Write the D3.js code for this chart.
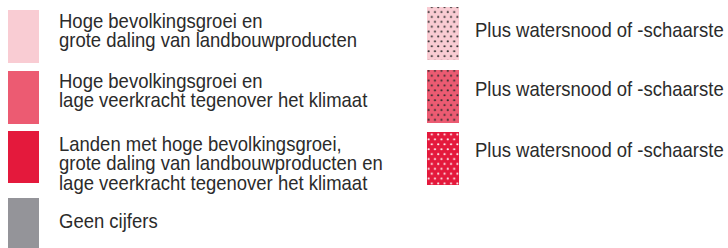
<!DOCTYPE html>
<html>
<head>
<meta charset="utf-8">
<script src="https://d3js.org/d3.v7.min.js"></script>
<style>
  body { margin: 0; background: #fff; }
  svg { display: block; }
  text { font-family: "Liberation Sans", Arial, sans-serif; font-size: 20px; fill: #2b2b2b; }
</style>
</head>
<body>
<div id="legend"></div>
<script>
var w = 728,
    h = 248;

// left column: categories
var categories = [
  ["Hoge bevolkingsgroei en", "grote daling van landbouwproducten"],
  ["Hoge bevolkingsgroei en", "lage veerkracht tegenover het klimaat"],
  ["Landen met hoge bevolkingsgroei,", "grote daling van landbouwproducten en", "lage veerkracht tegenover het klimaat"],
  ["Geen cijfers"]
];
var categoryColors = ["#f9ccd3", "#ec5b72", "#e4193c", "#949499"];

// right column: same classes plus water stress
var waterLabels = ["Plus watersnood of -schaarste", "Plus watersnood of -schaarste", "Plus watersnood of -schaarste"];
var waterColors = ["#f9ccd3", "#ec5b72", "#e4193c"];
var dotColors = ["#2b2b2b", "#2b2b2b", "#ffffff"];

var svg = d3.select("#legend")
              .append("svg")
              .attr("width", w)
              .attr("height", h);

// condensed look of the original type
var squeeze = 0.925;

// dot patterns
var defs = svg.append("defs");
waterColors.forEach(function(c, i) {
  var p = defs.append("pattern")
      .attr("id", "dots" + i)
      .attr("patternUnits", "userSpaceOnUse")
      .attr("x", 427).attr("y", 0)
      .attr("width", 6.4)
      .attr("height", 9.8);
  p.append("rect").attr("width", 6.4).attr("height", 9.8).attr("fill", c);
  p.append("circle").attr("cx", 1.6).attr("cy", 2.2).attr("r", 1.05).attr("fill", dotColors[i]);
  p.append("circle").attr("cx", 4.8).attr("cy", 7.1).attr("r", 1.05).attr("fill", dotColors[i]);
});

var leftTop = d3.scaleOrdinal().domain(d3.range(4)).range([10, 71, 131, 198]);
var leftHeight = d3.scaleOrdinal().domain(d3.range(4)).range([53, 53, 52, 50]);
var leftBase = d3.scaleOrdinal().domain(d3.range(4)).range([27.5, 87.5, 151, 228]);
var lineH = 19.3;

var left = svg.selectAll("g.left")
    .data(categories)
  .enter().append("g")
    .attr("class", "left");

left.append("rect")
    .attr("x", 8)
    .attr("y", function(d, i) { return leftTop(i); })
    .attr("width", 31)
    .attr("height", function(d, i) { return leftHeight(i); })
    .attr("fill", function(d, i) { return categoryColors[i]; });

left.each(function(d, i) {
  d3.select(this).selectAll("text")
      .data(d)
    .enter().append("text")
      .attr("transform", function(t, j) {
        return "translate(59," + (leftBase(i) + j * lineH) + ")scale(" + squeeze + ",1)";
      })
      .text(function(t) { return t; });
});

var rightTop = d3.scaleOrdinal().domain(d3.range(3)).range([7, 70, 132]);
var rightBase = d3.scaleOrdinal().domain(d3.range(3)).range([37, 95.5, 157]);

var right = svg.selectAll("g.right")
    .data(waterLabels)
  .enter().append("g")
    .attr("class", "right");

right.append("rect")
    .attr("x", 427)
    .attr("y", function(d, i) { return rightTop(i); })
    .attr("width", 32)
    .attr("height", 53)
    .attr("fill", function(d, i) { return "url(#dots" + i + ")"; });

right.append("text")
    .attr("transform", function(d, i) {
      return "translate(475," + rightBase(i) + ")scale(" + squeeze + ",1)";
    })
    .text(function(d) { return d; });
</script>
</body>
</html>
